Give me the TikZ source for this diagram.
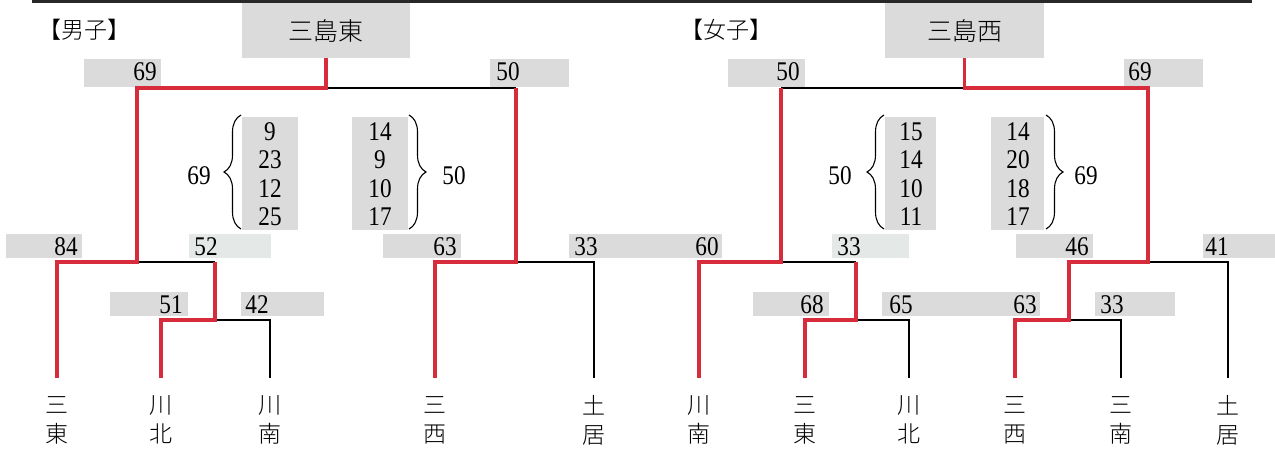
\documentclass[tikz,border=0pt]{standalone}
\usepackage{fontspec}
\newfontfamily\cjk{Noto Sans CJK JP}[UprightFont={* Light}]
\newfontfamily\numf{Liberation Serif}[FakeStretch=0.86]
\usetikzlibrary{decorations.pathreplacing}
\definecolor{boxgray}{RGB}{219,219,219}
\definecolor{boxlight}{RGB}{228,232,230}
\definecolor{winred}{RGB}{214,44,60}
\definecolor{rulegray}{RGB}{40,40,40}
\tikzset{
  score/.style={font=\numf\fontsize{27}{27}\selectfont, inner sep=0pt},
  numcol/.style={font=\numf\fontsize{27}{28.5}\selectfont, align=center, inner sep=0pt},
  team/.style={font=\cjk\fontsize{23}{29}\selectfont, align=center, inner sep=0pt},
  titlebox/.style={font=\cjk\fontsize{25}{25}\selectfont, fill=boxgray, minimum width=#1, minimum height=55pt, inner sep=0pt},
  head/.style={font=\cjk\fontsize{23}{23}\selectfont, inner sep=0pt},
  win/.style={draw=winred, line width=3.5pt},
  lose/.style={draw=black, line width=1.4pt},
  bracebrace/.style={draw=black, line width=1.1pt, decorate, decoration={brace, amplitude=17pt}},
}
\begin{document}
\begin{tikzpicture}[x=1pt,y=-1pt]
\useasboundingbox (0,0) rectangle (1275,453);
\draw[rulegray, line width=3pt] (32,1.5) -- (1252,1.5);

% ---------- score boxes ----------
\fill[boxgray] (84,59) rectangle (161,87);
\fill[boxgray] (490,59) rectangle (569,87);
\fill[boxgray] (6,234) rectangle (82,258);
\fill[boxlight] (189,234) rectangle (271,258);
\fill[boxgray] (110,292) rectangle (188,316);
\fill[boxgray] (241,292) rectangle (324,316);
\fill[boxgray] (383,234) rectangle (461,258);
\fill[boxgray] (569,234) rectangle (722,258);
\fill[boxgray] (728,59) rectangle (805,87);
\fill[boxgray] (1124,59) rectangle (1203,87);
\fill[boxlight] (832,234) rectangle (909,258);
\fill[boxgray] (1016,234) rectangle (1093,258);
\fill[boxgray] (1203,234) rectangle (1275,258);
\fill[boxgray] (753,292) rectangle (829,316);
\fill[boxgray] (882,292) rectangle (1040,316);
\fill[boxgray] (1095,292) rectangle (1175,316);
% quarter columns
\fill[boxgray] (242,117) rectangle (298,230);
\fill[boxgray] (352,117) rectangle (408,230);
\fill[boxgray] (885,117) rectangle (936,230);
\fill[boxgray] (991,117) rectangle (1044,230);

% ---------- titles ----------
\node[head] (hm) at (84,30) {【男子】};
\node[head] (hw) at (726,30) {【女子】};
\node[titlebox=168pt] (tm) at (326,30.5) {三島東};
\node[titlebox=159pt] (tw) at (964.5,30.5) {三島西};

% ---------- men ----------
\coordinate (mt1) at (57,378);
\coordinate (mt2) at (161,378);
\coordinate (mt3) at (270,378);
\coordinate (mt4) at (435,378);
\coordinate (mt5) at (594,378);
\coordinate (mq1) at (215,320);
\coordinate (ms1) at (137,262);
\coordinate (ms2) at (516,262);
\coordinate (mf) at (326,88);

\draw[lose] (mq1) -| (mt3);
\draw[lose] (ms1) -- (ms1 -| mq1);
\draw[lose] (ms2) -| (mt5);
\draw[lose] (mf) -- (mf -| ms2);
\draw[win] (mt2) |- (mq1) -- (mq1 |- ms1);
\draw[win] (mt1) |- (ms1) |- (mf) -- (tm.south);
\draw[win] (mt4) |- (ms2) -- (ms2 |- mf);

\node[team] (ml1) at (57,420) {三\\東};
\node[team] (ml2) at (161,420) {川\\北};
\node[team] (ml3) at (270,420) {川\\南};
\node[team] (ml4) at (435,420) {三\\西};
\node[team] (ml5) at (594,420) {土\\居};

\node[score] (m69) at (145,71.5) {69};
\node[score] (m50) at (508,71.5) {50};
\node[score] (m84) at (66,246.5) {84};
\node[score] (m52) at (206,246.5) {52};
\node[score] (m51) at (171,305) {51};
\node[score] (m42) at (257,305) {42};
\node[score] (m63) at (445,246.5) {63};
\node[score] (m33) at (586,246.5) {33};

\node[numcol] (mqa) at (270,174) {9\\23\\12\\25};
\node[numcol] (mqb) at (380,174) {14\\9\\10\\17};
\draw[bracebrace] (241,229) -- (241,115);
\draw[bracebrace] (409,115) -- (409,229);
\node[score] (mqat) at (199,176) {69};
\node[score] (mqbt) at (454,176) {50};

% ---------- women ----------
\coordinate (wt1) at (699,378);
\coordinate (wt2) at (805,378);
\coordinate (wt3) at (909,378);
\coordinate (wt4) at (1015,378);
\coordinate (wt5) at (1121,378);
\coordinate (wt6) at (1228,378);
\coordinate (wq1) at (856,320);
\coordinate (wq2) at (1069,320);
\coordinate (ws1) at (781,262);
\coordinate (ws2) at (1148,262);
\coordinate (wf) at (964.5,88);

\draw[lose] (wq1) -| (wt3);
\draw[lose] (ws1) -- (ws1 -| wq1);
\draw[lose] (wq2) -| (wt5);
\draw[lose] (ws2) -| (wt6);
\draw[lose] (wf) -- (wf -| ws1);
\draw[win] (wt2) |- (wq1) -- (wq1 |- ws1);
\draw[win] (wt1) |- (ws1) -- (ws1 |- wf);
\draw[win] (wt4) |- (wq2) |- (ws2) |- (wf) -- (tw.south);

\node[team] (wl1) at (699,420) {川\\南};
\node[team] (wl2) at (805,420) {三\\東};
\node[team] (wl3) at (909,420) {川\\北};
\node[team] (wl4) at (1015,420) {三\\西};
\node[team] (wl5) at (1121,420) {三\\南};
\node[team] (wl6) at (1228,420) {土\\居};

\node[score] (w60) at (707,246.5) {60};
\node[score] (w50) at (788,71.5) {50};
\node[score] (w69) at (1140,71.5) {69};
\node[score] (w33a) at (849,246.5) {33};
\node[score] (w46) at (1077,246.5) {46};
\node[score] (w41) at (1217,246.5) {41};
\node[score] (w68) at (812,305) {68};
\node[score] (w65) at (901,305) {65};
\node[score] (w63) at (1025,305) {63};
\node[score] (w33b) at (1112,305) {33};

\node[numcol] (wqa) at (911,174) {15\\14\\10\\11};
\node[numcol] (wqb) at (1018,174) {14\\20\\18\\17};
\draw[bracebrace] (884,229) -- (884,115);
\draw[bracebrace] (1046,115) -- (1046,229);
\node[score] (wqat) at (840,176) {50};
\node[score] (wqbt) at (1086,176) {69};
\end{tikzpicture}
\end{document}
